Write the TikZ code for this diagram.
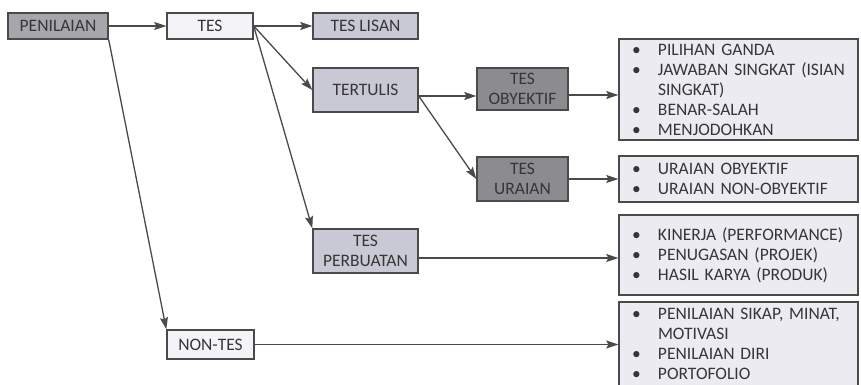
\documentclass[tikz,border=0pt]{standalone}
\usepackage{fontspec}
\setmainfont{Carlito}
\usepackage{tikz}
\usetikzlibrary{positioning,arrows.meta}
\usepackage{xcolor}
\definecolor{garis}{HTML}{4A4A4A}
\definecolor{teks}{HTML}{363636}
\definecolor{abu}{HTML}{A6A6AC}
\definecolor{abutua}{HTML}{8C8C90}
\definecolor{lembayung}{HTML}{C9C9D6}
\definecolor{putih}{HTML}{F4F4F8}
\definecolor{daftar}{HTML}{EBEBF1}
\newcommand{\titik}{\hspace*{13pt}\makebox[26pt][l]{\textbullet}}
\newcommand{\sambung}{\hspace*{39pt}}

\tikzset{kotak/.style={draw=garis,line width=1.4pt,inner sep=0pt,align=center,
    text=teks,font=\fontsize{17.5}{20}\selectfont},
  isian/.style={kotak,fill=daftar,text width=239pt,inner xsep=0pt,align=left},
  panah/.style={->,draw=garis,line width=1.3pt}}

\begin{document}
\begin{tikzpicture}[x=1pt,y=-1pt,>={Stealth[length=12pt,width=8pt,inset=2pt]}]
\useasboundingbox (0,0) rectangle (861,385);
\node[kotak,fill=abu,minimum width=100pt,minimum height=26pt] (penilaian) at (58,26) {PENILAIAN};
\node[kotak,fill=putih,minimum width=86pt,minimum height=26pt] (tes) at (210,26) {TES};
\node[kotak,fill=lembayung,minimum width=105pt,minimum height=26pt] (lisan) at (365.5,26) {TES LISAN};
\node[kotak,fill=lembayung,minimum width=105pt,minimum height=44pt] (tertulis) at (365.5,90) {TERTULIS};
\node[kotak,fill=abutua,minimum width=91pt,minimum height=42pt] (obyektif) at (522.5,89) {TES\\OBYEKTIF};
\node[kotak,fill=abutua,minimum width=91pt,minimum height=44pt] (uraian) at (522.5,179) {TES\\URAIAN};
\node[kotak,fill=lembayung,minimum width=105pt,minimum height=44pt] (perbuatan) at (365.5,251) {TES\\PERBUATAN};
\node[kotak,fill=putih,minimum width=87pt,minimum height=29pt] (nontes) at (210.5,344.5) {NON-TES};

\node[isian,minimum height=101pt] (daftarA) at (738.5,89.5) {\titik PILIHAN GANDA\\
  \titik JAWABAN SINGKAT (ISIAN\\ \sambung SINGKAT)\\ \titik BENAR-SALAH\\ \titik MENJODOHKAN};
\node[isian,minimum height=46pt] (daftarB) at (738.5,179) {\titik URAIAN OBYEKTIF\\
  \titik URAIAN NON-OBYEKTIF};
\node[isian,minimum height=80pt] (daftarC) at (738.5,255) {\titik KINERJA (PERFORMANCE)\\
  \titik PENUGASAN (PROJEK)\\ \titik HASIL KARYA (PRODUK)};
\node[isian,minimum height=84pt] (daftarD) at (738.5,344) {\titik PENILAIAN SIKAP, MINAT,\\
  \sambung MOTIVASI\\ \titik PENILAIAN DIRI\\ \titik PORTOFOLIO};

\draw[panah] (penilaian) -- (tes);
\draw[panah] (tes) -- (lisan);
\draw[panah] (tes.east) -- (tertulis.west);
\draw[panah] (tes.east) -- (perbuatan.north west);
\draw[panah] (penilaian.south east) -- (nontes.north west);
\draw[panah] ([yshift=-6pt]tertulis.east) -- ([yshift=-6pt]tertulis.east -| obyektif.west);
\draw[panah] ([yshift=-6pt]tertulis.east) -- (uraian.west);
\draw[panah] ([yshift=-6pt]obyektif.east) -- ([yshift=-6pt]obyektif.east -| daftarA.west);
\draw[panah] (uraian.east) -- (uraian.east -| daftarB.west);
\draw[panah] ([yshift=-7pt]perbuatan.east) -- ([yshift=-7pt]perbuatan.east -| daftarC.west);
\draw[panah] (nontes.east) -- (nontes.east -| daftarD.west);
\end{tikzpicture}
\end{document}
